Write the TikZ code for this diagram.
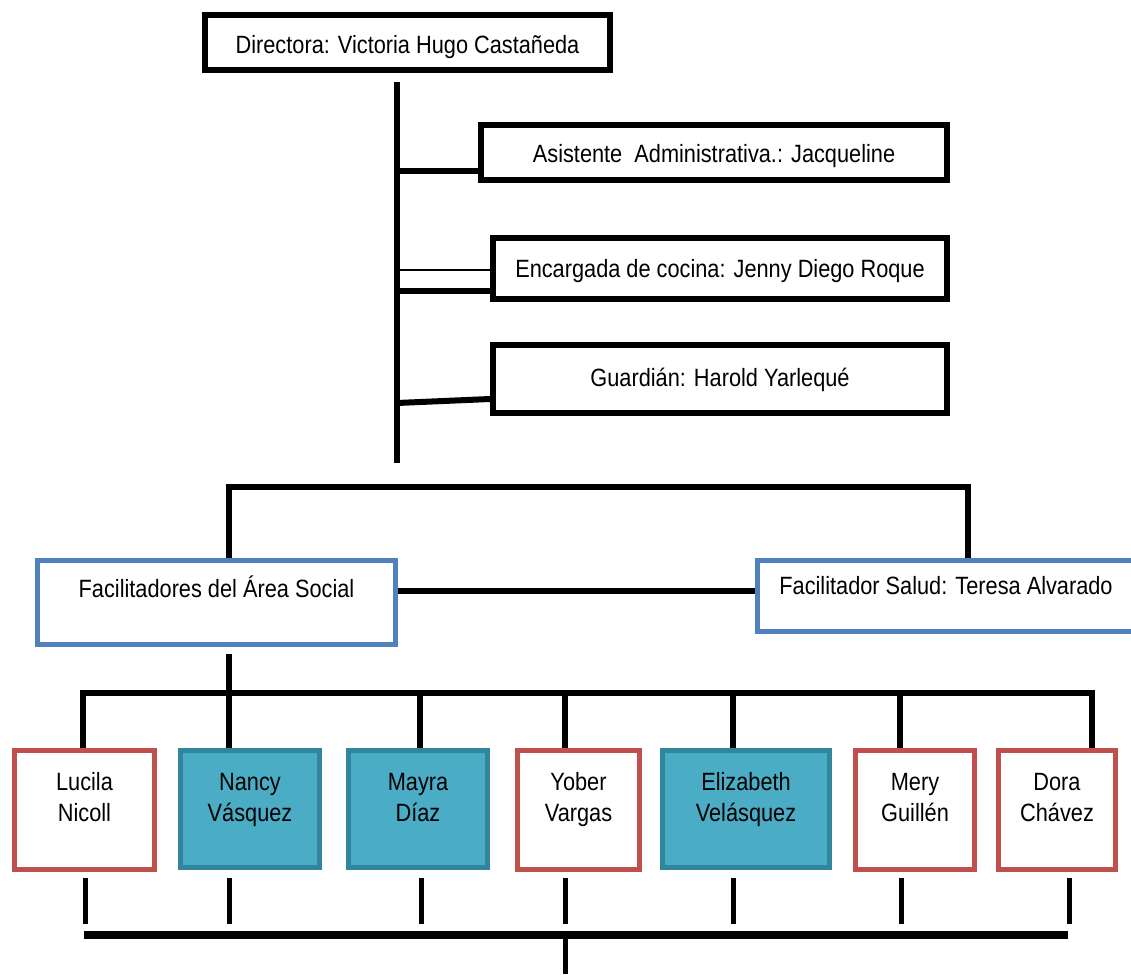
\documentclass[tikz,border=0pt]{standalone}
\usepackage{fontspec}
\setmainfont{Liberation Sans}[FakeStretch=0.87]
\definecolor{blueC}{HTML}{4F81BD}
\definecolor{redC}{HTML}{C0504D}
\definecolor{tealF}{HTML}{4BACC6}
\definecolor{tealD}{HTML}{31859C}
\tikzset{
  bk/.style={draw=black, line width=6pt, fill=white, inner sep=0pt, minimum width=#1},
  bl/.style={draw=blueC, line width=5pt, fill=white, inner sep=0pt, minimum width=#1},
  rd/.style={draw=redC, line width=5pt, fill=white, inner sep=0pt, minimum width=#1, minimum height=119pt},
  tl/.style={draw=tealD, fill=tealF, line width=5pt, inner sep=0pt, minimum width=#1, minimum height=117pt},
  txt/.style={inner sep=0pt, align=center, font=\fontsize{25}{31}\selectfont},
  ln/.style={line width=6pt},
  thin/.style={line width=1.6pt},
  dropb/.style={line width=5pt},
}
\begin{document}
\begin{tikzpicture}[x=1pt,y=-1pt]
\clip (0,0) rectangle (1131,974);
\fill[white] (0,0) rectangle (1131,974);
% top level boxes
\node[bk=405pt, minimum height=55pt] (dir) at (407.5,42.5) {};
\node[txt] (tdir) at ([yshift=-4.8pt]dir.center) {\strut Directora: Victoria Hugo Castañeda};
\node[bk=466pt, minimum height=55pt] (asis) at (714,152.5) {};
\node[txt] (tasis) at ([yshift=-3.3pt]asis.center) {\strut Asistente\ \ Administrativa.: Jacqueline};
\node[bk=454pt, minimum height=61pt] (coc) at (720,268.5) {};
\node[txt] (tcoc) at ([yshift=-2.8pt]coc.center) {\strut Encargada de cocina: Jenny Diego Roque};
\node[bk=454pt, minimum height=68pt] (gua) at (720,379) {};
\node[txt] (tgua) at ([yshift=-1.3pt]gua.center) {\strut Guardián: Harold Yarlequé};
% trunk
\coordinate (tt) at (397,82);
\coordinate (tb) at (397,463);
\draw[ln] (tt) -- (tb);
\draw[ln] (tt |- 0,171) -- (asis.west |- 0,171);
\draw[thin] (tt |- 0,270) -- (coc.west |- 0,270);
\draw[ln] (tt |- 0,291) -- (coc.west |- 0,291);
\draw[ln] (tt |- 0,403) -- (gua.west |- 0,399);
% second level
\node[bl=358pt, minimum height=84pt] (fac) at (216.5,602.5) {};
\node[txt] (tfac) at ([yshift=11.2pt]fac.center) {\strut Facilitadores del Área Social};
\node[bl=377pt, minimum height=71.5pt] (sal) at (946,596) {};
\node[txt] (tsal) at ([yshift=7.7pt]sal.center) {\strut Facilitador Salud: Teresa Alvarado};
\draw[ln] (229,0 |- fac.north) -- (229,487) -- (968,487) -- (968,0 |- sal.north);
\draw[ln] (fac.east |- 0,591) -- (sal.west |- 0,591);
% bottom boxes
\node[rd=140pt] (luc) at (84.5,810) {};
\node[txt] (tluc) at ([yshift=10.2pt]luc.center) {\strut Lucila\\\strut Nicoll};
\node[tl=139pt] (nan) at (250,809) {};
\node[txt] (tnan) at ([yshift=9.7pt]nan.center) {\strut Nancy\\\strut Vásquez};
\node[tl=139pt] (may) at (418,809) {};
\node[txt] (tmay) at ([yshift=9.7pt]may.center) {\strut Mayra\\\strut Díaz};
\node[rd=122pt] (yob) at (578.5,810) {};
\node[txt] (tyob) at ([yshift=10.2pt]yob.center) {\strut Yober\\\strut Vargas};
\node[tl=167pt] (eli) at (746,809) {};
\node[txt] (teli) at ([yshift=9.7pt]eli.center) {\strut Elizabeth\\\strut Velásquez};
\node[rd=119pt] (mer) at (915,810) {};
\node[txt] (tmer) at ([yshift=10.2pt]mer.center) {\strut Mery\\\strut Guillén};
\node[rd=117pt] (dor) at (1057,810) {};
\node[txt] (tdor) at ([yshift=10.2pt]dor.center) {\strut Dora\\\strut Chávez};
% connectors to bottom boxes
\coordinate (fb) at (229,654);
\coordinate (bj) at (229,693);
\draw[ln] (fb) -- (bj);
\draw[ln] (83,0 |- luc.north) -- (83,693) -- (1092,693) -- (1092,0 |- dor.north);
\draw[ln] (bj) -- (229,0 |- nan.north);
\draw[ln] (420,693) -- (420,0 |- may.north);
\draw[ln] (565,693) -- (565,0 |- yob.north);
\draw[ln] (733,693) -- (733,0 |- eli.north);
\draw[ln] (900,693) -- (900,0 |- mer.north);
% lower stubs
\foreach \xx in {85,229,421,565,733,901,1069} {
  \draw[dropb] (\xx,878) -- (\xx,924);
}
\coordinate (bl) at (84,935);
\coordinate (br) at (1068,935);
\coordinate (bm) at (565,935);
\draw[line width=8pt] (bl) -- (br);
\draw[dropb] (bm) -- (565,974);
\end{tikzpicture}
\end{document}
